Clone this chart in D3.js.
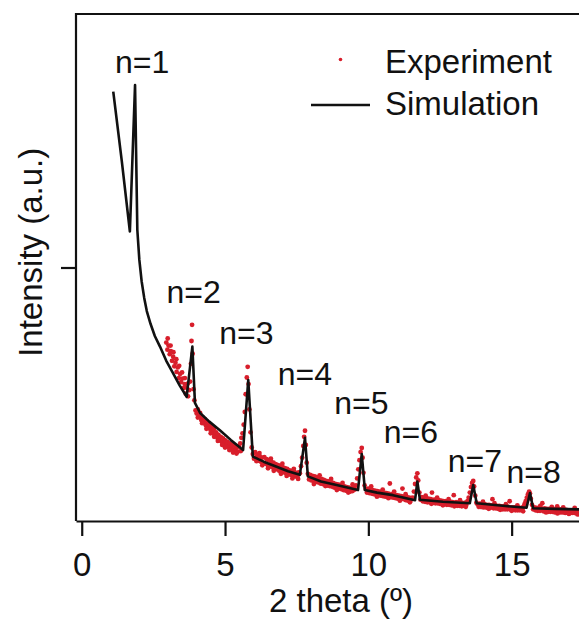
<!DOCTYPE html>
<html>
<head>
<meta charset="utf-8">
<script src="https://cdn.jsdelivr.net/npm/d3@7"></script>
<style>
  body { margin: 0; background: #fff; }
  svg { display: block; font-family: "Liberation Sans", Arial, sans-serif; }
</style>
</head>
<body>
<div id="chart"></div>
<script>
// simulated diffraction curve [2theta, intensity]
const simulation = [
  [1.10,84.7],[1.40,70.9],[1.68,57.1],[1.86,86.0],[1.94,57.4],[2.01,51.5],[2.09,47.3],[2.18,44.0],
  [2.27,41.4],[2.40,38.9],[2.55,36.5],[2.73,34.4],[2.95,31.6],[3.18,29.2],[3.42,26.7],[3.66,24.5],
  [3.86,34.4],[3.95,23.3],[4.13,21.3],[4.45,19.6],[4.82,17.9],[5.20,16.0],[5.63,14.0],[5.81,27.8],
  [5.97,12.7],[6.35,11.7],[6.80,10.7],[7.20,9.8],[7.61,9.1],[7.79,16.4],[7.89,8.8],[8.35,7.8],
  [8.89,7.1],[9.64,6.1],[9.77,13.2],[9.88,6.1],[10.30,5.6],[10.86,5.1],[11.63,4.1],[11.71,7.8],
  [11.80,4.2],[12.60,3.8],[13.54,3.5],[13.66,7.1],[13.78,3.5],[14.69,3.0],[15.52,2.6],[15.64,5.5],
  [15.75,2.5],[16.50,2.4],[17.35,2.3]
];

// measured points [2theta, intensity]
const experiment = [
  [2.95,35.2],[2.99,33.8],[3.03,34.6],[3.07,32.9],[3.11,33.5],[3.15,31.6],[3.19,32.4],[3.23,30.5],
  [3.27,31.2],[3.31,29.4],[3.35,30.3],[3.39,28.2],[3.43,29.0],[3.47,27.4],[3.51,28.1],[3.55,26.2],
  [3.59,27.0],[3.63,25.1],[3.67,26.3],[3.71,24.6],[3.75,25.8],[3.78,27.5],[3.81,31.0],[3.83,35.5],
  [3.85,38.7],[3.87,33.0],[3.90,26.0],[3.93,23.8],
  [3.97,21.8],[4.01,21.2],[4.05,22.0],[4.09,20.6],[4.13,21.3],[4.17,19.9],[4.21,20.5],[4.25,19.4],
  [4.29,20.1],[4.33,18.9],[4.37,19.6],[4.41,18.4],[4.45,19.0],[4.49,18.0],[4.53,18.6],[4.57,17.4],
  [4.61,18.1],[4.65,16.9],[4.69,17.5],[4.73,16.4],[4.77,17.0],[4.81,15.9],[4.85,16.6],[4.89,15.6],
  [4.93,16.3],[4.97,15.2],[5.01,15.9],[5.05,14.9],[5.09,15.6],[5.13,14.6],[5.17,15.3],[5.21,14.3],
  [5.25,15.0],[5.29,14.0],[5.33,14.8],[5.37,13.9],[5.41,14.5],[5.45,13.7],[5.49,14.7],[5.53,15.3],
  [5.57,16.4],[5.61,17.3],[5.65,19.0],[5.69,21.5],[5.72,25.0],[5.76,28.3],[5.79,30.4],[5.82,27.0],
  [5.85,22.0],[5.89,17.5],[5.93,14.5],
  [5.97,13.2],[6.01,12.3],[6.05,13.6],[6.09,12.6],[6.13,13.1],[6.17,11.9],[6.21,12.8],[6.25,11.7],
  [6.29,12.5],[6.33,11.4],[6.37,12.6],[6.41,11.3],[6.45,12.2],[6.49,11.0],[6.53,12.0],[6.57,10.8],
  [6.61,11.7],[6.65,10.6],[6.69,11.5],[6.73,10.3],[6.77,11.2],[6.81,10.2],[6.85,11.0],[6.89,9.9],
  [6.93,10.8],[6.97,9.8],[7.01,10.6],[7.05,9.6],[7.09,10.4],[7.13,9.4],[7.17,10.3],[7.21,9.2],
  [7.25,10.0],[7.29,9.1],[7.33,9.9],[7.37,8.9],[7.41,9.7],[7.45,8.8],[7.49,9.5],[7.53,8.7],
  [7.57,9.6],[7.61,9.4],[7.65,10.8],[7.69,12.5],[7.73,14.8],[7.76,16.6],[7.79,17.8],[7.82,15.0],
  [7.85,11.5],[7.89,9.3],
  [7.93,8.2],[7.97,9.1],[8.01,8.0],[8.05,8.9],[8.09,7.9],[8.13,8.8],[8.17,7.7],[8.21,8.6],
  [8.25,7.6],[8.29,8.4],[8.33,7.4],[8.37,8.3],[8.41,7.3],[8.45,8.1],[8.49,7.2],[8.53,7.9],
  [8.57,7.0],[8.61,7.8],[8.65,6.9],[8.69,7.6],[8.73,6.8],[8.77,7.5],[8.81,6.6],[8.85,7.3],
  [8.89,6.5],[8.93,7.2],[8.97,6.4],[9.01,7.1],[9.05,6.3],[9.09,6.9],[9.13,6.1],[9.17,6.8],
  [9.21,6.0],[9.25,6.7],[9.29,5.9],[9.33,6.6],[9.37,5.8],[9.41,6.5],[9.45,5.9],[9.49,6.6],
  [9.53,6.2],[9.57,7.0],[9.61,8.4],[9.65,10.2],[9.69,12.0],[9.73,13.6],[9.77,14.4],[9.80,12.5],
  [9.83,9.5],[9.87,7.0],
  [9.91,6.3],[9.95,5.6],[9.99,6.4],[10.03,5.5],[10.07,6.2],[10.11,5.4],[10.15,6.1],[10.19,5.3],
  [10.23,6.0],[10.27,5.2],[10.31,5.9],[10.35,5.1],[10.39,5.8],[10.43,5.0],[10.47,5.7],[10.51,4.9],
  [10.55,5.6],[10.59,4.8],[10.63,5.5],[10.67,4.8],[10.71,5.4],[10.75,7.4],[10.79,4.7],[10.83,5.3],
  [10.87,4.6],[10.91,5.2],[10.95,4.5],[10.99,5.1],[11.03,4.4],[11.07,5.0],[11.11,4.3],[11.15,4.9],
  [11.19,6.4],[11.23,4.3],[11.27,4.8],[11.31,4.1],[11.35,4.7],[11.39,4.0],[11.43,4.6],[11.47,4.0],
  [11.51,4.5],[11.55,4.6],[11.59,5.8],[11.63,7.3],[11.67,8.6],[11.71,9.4],[11.74,8.0],[11.78,5.6],
  [11.82,4.2],
  [11.86,4.7],[11.90,3.9],[11.94,4.6],[11.98,3.8],[12.02,4.5],[12.06,3.7],[12.10,4.4],[12.14,3.7],
  [12.18,4.3],[12.22,5.6],[12.26,3.6],[12.30,4.2],[12.34,3.5],[12.38,4.1],[12.42,3.5],[12.46,4.1],
  [12.50,3.4],[12.54,4.0],[12.58,3.3],[12.62,3.9],[12.66,3.3],[12.70,3.9],[12.74,3.2],[12.78,3.8],
  [12.82,3.2],[12.86,3.8],[12.90,3.1],[12.94,3.7],[12.98,5.1],[13.02,3.1],[13.06,3.7],[13.10,3.0],
  [13.14,3.6],[13.18,3.0],[13.22,3.6],[13.26,2.9],[13.30,3.5],[13.34,3.0],[13.38,3.6],[13.42,3.2],
  [13.46,3.9],[13.50,4.6],[13.54,5.6],[13.58,6.7],[13.62,7.5],[13.66,7.9],[13.69,6.8],[13.73,5.0],
  [13.77,3.6],
  [13.81,3.3],[13.85,2.8],[13.89,3.4],[13.93,2.8],[13.97,3.3],[14.01,2.7],[14.05,3.3],[14.09,2.7],
  [14.13,3.2],[14.17,2.6],[14.21,3.2],[14.25,2.6],[14.29,3.1],[14.33,4.3],[14.37,2.5],[14.41,3.1],
  [14.45,2.5],[14.49,3.0],[14.53,2.4],[14.57,3.0],[14.61,2.4],[14.65,2.9],[14.69,2.3],[14.73,2.9],
  [14.77,2.3],[14.81,2.8],[14.85,2.3],[14.89,2.8],[14.93,3.9],[14.97,2.2],[15.01,2.7],[15.05,2.2],
  [15.09,2.7],[15.13,2.1],[15.17,2.6],[15.21,2.1],[15.25,2.6],[15.29,2.1],[15.33,2.6],[15.37,2.2],
  [15.41,2.8],[15.45,3.3],[15.49,3.9],[15.53,4.6],[15.57,5.3],[15.61,5.8],[15.64,5.4],[15.67,4.4],
  [15.71,3.2],[15.75,2.3],
  [15.79,2.7],[15.83,2.1],[15.87,2.6],[15.91,2.0],[15.95,2.6],[15.99,2.0],[16.03,2.5],[16.07,3.5],
  [16.11,1.9],[16.15,2.5],[16.19,1.9],[16.23,2.4],[16.27,1.8],[16.31,2.4],[16.35,1.8],[16.39,2.4],
  [16.43,1.8],[16.47,2.3],[16.51,1.7],[16.55,2.3],[16.59,2.9],[16.63,1.7],[16.67,2.3],[16.71,1.7],
  [16.75,2.2],[16.79,1.7],[16.83,2.2],[16.87,1.6],[16.91,2.2],[16.95,1.6],[16.99,2.1],[17.03,1.6],
  [17.07,2.1],[17.11,1.6],[17.15,2.1],[17.19,1.6],[17.23,2.0],[17.27,1.5],[17.31,2.0],[17.35,1.5],
  // scattered points off the main band
  [3.00,36.0],[3.10,34.6],[3.20,33.3],[3.30,31.9],[3.40,30.6],[3.50,29.3],[3.60,28.2],[3.70,27.1],
  [4.05,20.4],[4.20,19.3],[4.35,18.2],[4.50,17.3],[4.62,16.6],[4.75,15.8],[4.90,15.0],[5.00,14.5],
  [5.15,14.0],[5.28,13.5],[5.40,13.3],[5.55,13.8],
  [6.10,11.8],[6.30,11.0],[6.50,10.4],[6.70,9.9],[6.95,9.3],[7.15,8.9],[7.35,8.4],[7.55,8.3],
  [6.20,13.4],[6.60,12.3],[7.00,11.3],[7.40,10.3],
  [8.10,7.3],[8.30,9.0],[8.50,6.9],[8.70,8.3],[8.90,6.1],[9.10,7.5],[9.30,5.6],[9.45,7.2],
  [10.10,6.8],[10.30,4.8],[10.50,6.2],[10.70,4.5],[10.90,5.8],[11.10,4.0],[11.30,5.3],[11.45,3.7],
  [12.00,5.0],[12.20,3.4],[12.40,4.6],[12.60,3.1],[12.80,4.3],[13.00,2.9],[13.20,4.1],[13.40,2.8],
  [14.00,3.8],[14.20,2.4],[14.40,3.5],[14.60,2.2],[14.80,3.3],[15.00,2.0],[15.20,3.1],[15.40,1.9],
  [16.00,3.0],[16.20,1.7],[16.40,2.8],[16.60,1.5],[16.80,2.7],[17.00,1.4],[17.20,2.6],[17.30,1.3]
];

// peak labels and where they sit (data coords of text start)
const peakNames = ["n=1", "n=2", "n=3", "n=4", "n=5", "n=6", "n=7", "n=8"];
const peakLabelX = [1.16, 2.96, 4.80, 6.84, 8.81, 10.54, 12.77, 14.82];
const peakLabelY = [88.4, 43.0, 34.9, 26.8, 21.2, 15.3, 9.7, 7.4];

const xTicks = [0, 5, 10, 15];
const yTicks = [50];

const width = 579, height = 621;

const svg = d3.select("#chart")
    .append("svg")
    .attr("width", width)
    .attr("height", height);

const x = d3.scaleLinear()
    .domain([-0.2, 17.35])
    .range([76, 579]);

const y = d3.scaleLinear()
    .domain([0, 100])
    .range([521, 14]);

// frame (right side runs past the picture)
svg.append("path")
    .attr("d", `M${x.range()[1] + 10},${y(100)} H${x.range()[0]} V${y(0)}`)
    .attr("fill", "none")
    .attr("stroke", "#111")
    .attr("stroke-width", 2.2);

const xAxis = svg.append("g")
    .attr("transform", `translate(0,${y(0)})`)
    .call(d3.axisBottom(x).tickValues(xTicks).tickSize(15).tickSizeOuter(0).tickPadding(17));
xAxis.select(".domain").attr("stroke", "#111").attr("stroke-width", 2.2);
xAxis.selectAll(".tick line").attr("stroke", "#111").attr("stroke-width", 2.2);
xAxis.selectAll(".tick text")
    .attr("fill", "#111")
    .style("font-size", "33px")
    .style("font-family", "Liberation Sans, Arial, sans-serif");

const yAxis = svg.append("g")
    .attr("transform", `translate(${x(-0.2)},0)`)
    .call(d3.axisLeft(y).tickValues(yTicks).tickSize(15).tickSizeOuter(0).tickFormat(""));
yAxis.select(".domain").remove();
yAxis.selectAll(".tick line").attr("stroke", "#111").attr("stroke-width", 2.2);

// axis titles
svg.append("text")
    .attr("x", 341)
    .attr("y", 612)
    .attr("text-anchor", "middle")
    .style("font-size", "33px")
    .attr("fill", "#111")
    .text("2 theta (º)");

svg.append("text")
    .attr("transform", `translate(42,${y(53)}) rotate(-90)`)
    .attr("text-anchor", "middle")
    .style("font-size", "33px")
    .attr("fill", "#111")
    .text("Intensity (a.u.)");

// experiment dots under the line
svg.append("g")
    .selectAll("circle")
    .data(experiment)
    .join("circle")
    .attr("cx", d => x(d[0]))
    .attr("cy", d => y(d[1]))
    .attr("r", 2.4)
    .attr("fill", "#d81e2b");

const line = d3.line()
    .x(d => x(d[0]))
    .y(d => y(d[1]));

svg.append("path")
    .datum(simulation)
    .attr("d", line)
    .attr("fill", "none")
    .attr("stroke", "#111")
    .attr("stroke-width", 2.6)
    .attr("stroke-linejoin", "round");

// peak labels
svg.append("g")
    .selectAll("text")
    .data(peakNames)
    .join("text")
    .attr("x", (d, i) => x(peakLabelX[i]))
    .attr("y", (d, i) => y(peakLabelY[i]))
    .style("font-size", "32px")
    .attr("fill", "#111")
    .text(d => d);

// legend
const legend = svg.append("g");
legend.append("circle")
    .attr("cx", 340.5).attr("cy", 59.5).attr("r", 1.8)
    .attr("fill", "#d81e2b");
legend.append("text")
    .attr("x", 385).attr("y", 73)
    .style("font-size", "33px").attr("fill", "#111")
    .text("Experiment");
legend.append("line")
    .attr("x1", 311).attr("x2", 370).attr("y1", 105).attr("y2", 105)
    .attr("stroke", "#111").attr("stroke-width", 2.6);
legend.append("text")
    .attr("x", 385).attr("y", 115)
    .style("font-size", "33px").attr("fill", "#111")
    .text("Simulation");
</script>
</body>
</html>
